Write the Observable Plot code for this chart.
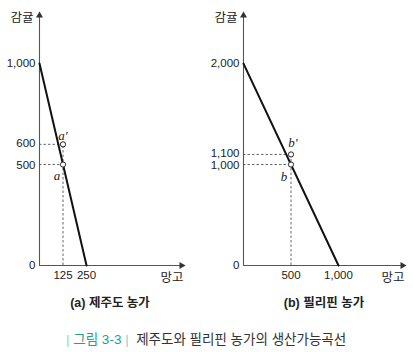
<!DOCTYPE html>
<html><head><meta charset="utf-8">
<script src="https://cdn.jsdelivr.net/npm/d3@7"></script>
<script src="https://cdn.jsdelivr.net/npm/@observablehq/plot@0.6"></script>
<style>
body{margin:0;background:#fff;font-family:"Liberation Sans","Noto Sans CJK KR",sans-serif;}
#wrap{position:relative;width:413px;height:352px;overflow:hidden;}
#row{display:flex;position:absolute;left:0;top:0;}
.sub{position:absolute;top:292px;font-size:12.5px;font-weight:bold;color:#222;transform:translateX(-50%);white-space:nowrap;}
#cap{position:absolute;top:328px;left:66px;font-size:13.5px;color:#333;white-space:nowrap;}
#cap .bar{color:#8fd3c4;}
#cap .num{color:#1f9e8c;}
</style></head>
<body><div id="wrap"><div id="row"></div>
<div class="sub" style="left:110px">(a) 제주도 농가</div>
<div class="sub" style="left:324px">(b) 필리핀 농가</div>
<div id="cap"><span class="bar">|</span> <span class="num">그림 3-3</span> <span class="bar">|</span>&nbsp; 제주도와 필리핀 농가의 생산가능곡선</div>
</div>
<script>
// Panel (a) 제주도 농가
const jejuMango = [0, 250];
const jejuCitrus = [1000, 0];
const jejuPointLabels = ["a", "a′"];
const jejuPointMango = [125, 125];
const jejuPointCitrus = [500, 600];
const jejuYTicks = [0, 500, 600, 1000];
const jejuXTicks = [125, 250];
// Panel (b) 필리핀 농가
const philMango = [0, 1000];
const philCitrus = [2000, 0];
const philPointLabels = ["b", "b′"];
const philPointMango = [500, 500];
const philPointCitrus = [1000, 1100];
const philYTicks = [0, 1000, 1100, 2000];
const philXTicks = [500, 1000];
const yAxisTitle = "감귤";
const xAxisTitle = "망고";

function panel(o) {
  const line = o.mango.map((m, i) => ({m, c: o.citrus[i]}));
  const pts = o.pm.map((m, i) => ({m, c: o.pc[i], label: o.labels[i]}));
  const fmt = d3.format(",");
  const serif = {fontFamily: '"Liberation Serif",serif', fontStyle: "italic", fontSize: 13};
  // the two closest y ticks (the point values) are nudged apart slightly
  const upper = o.pc[o.pc.length - 1], lower = o.pc[0];
  const otherTicks = o.yticks.filter(t => t !== upper && t !== lower);
  const yax = {tickFormat: fmt, tickSize: 0, tickPadding: 4, fontSize: 11.5};
  return Plot.plot({
    width: o.width, height: 290,
    marginLeft: o.ml, marginRight: o.mr, marginTop: 14, marginBottom: 25,
    style: {fontFamily: '"Liberation Sans","Noto Sans CJK KR",sans-serif', fontSize: "12px", color: "#222", overflow: "visible"},
    x: {domain: [0, o.xmax], axis: null},
    y: {domain: [0, o.ymax], axis: null},
    marks: [
      // dashed guides
      Plot.ruleY(pts, {y: "c", x1: 0, x2: "m", stroke: "#555", strokeWidth: 0.9, strokeDasharray: "2.5,2"}),
      Plot.ruleX([pts[pts.length - 1]], {x: "m", y1: 0, y2: "c", stroke: "#555", strokeWidth: 0.9, strokeDasharray: "2.5,2"}),
      // axes
      Plot.ruleX([0], {y1: 0, y2: o.ymax, stroke: "#555", strokeWidth: 1.1}),
      Plot.ruleY([0], {x1: 0, x2: o.xmax, stroke: "#555", strokeWidth: 1.1}),
      Plot.dot([{x: 0, y: o.ymax}], {x: "x", y: "y", symbol: "triangle", r: 2.6, fill: "#333", stroke: "none", dy: 1}),
      Plot.dot([{x: o.xmax, y: 0}], {x: "x", y: "y", symbol: "triangle", r: 2.6, fill: "#333", stroke: "none", rotate: 90, dx: -1}),
      Plot.axisY({ticks: otherTicks, ...yax}),
      Plot.axisY({ticks: [upper], ...yax, dy: -1.5}),
      Plot.axisY({ticks: [lower], ...yax, dy: 1}),
      Plot.axisX({ticks: o.xticks, tickFormat: fmt, tickSize: 0, tickPadding: 5, fontSize: 11.5}),
      Plot.text([yAxisTitle], {x: 0, y: o.ymax, text: d => d, textAnchor: "end", dx: -6, dy: 3, fontSize: 12.5}),
      Plot.text([xAxisTitle], {x: o.xmax, y: 0, text: d => d, textAnchor: "end", dx: 1, dy: 12, fontSize: 12.5}),
      // PPF line
      Plot.line(line, {x: "m", y: "c", stroke: "#111", strokeWidth: 2}),
      // points
      Plot.dot(pts, {x: "m", y: "c", r: 2.6, fill: "white", stroke: "#222", strokeWidth: 1}),
      Plot.text(pts.filter(d => d.label.length > 1), {x: "m", y: "c", text: "label", dx: o.pdx, dy: o.pdy, ...serif}),
      Plot.text(pts.filter(d => d.label.length === 1), {x: "m", y: "c", text: "label", dx: o.ldx, dy: o.ldy, ...serif})
    ]
  });
}

const row = document.getElementById("row");
row.append(panel({width: 206, ml: 39, mr: 24, xmax: 760, ymax: 1243,
  mango: jejuMango, citrus: jejuCitrus, pm: jejuPointMango, pc: jejuPointCitrus, labels: jejuPointLabels,
  yticks: jejuYTicks, xticks: jejuXTicks, pdx: 0, pdy: -9, ldx: -6, ldy: 11}));
row.append(panel({width: 207, ml: 37, mr: 10, xmax: 1684, ymax: 2486,
  mango: philMango, citrus: philCitrus, pm: philPointMango, pc: philPointCitrus, labels: philPointLabels,
  yticks: philYTicks, xticks: philXTicks, pdx: 2, pdy: -12, ldx: -7, ldy: 12}));
</script></body></html>
